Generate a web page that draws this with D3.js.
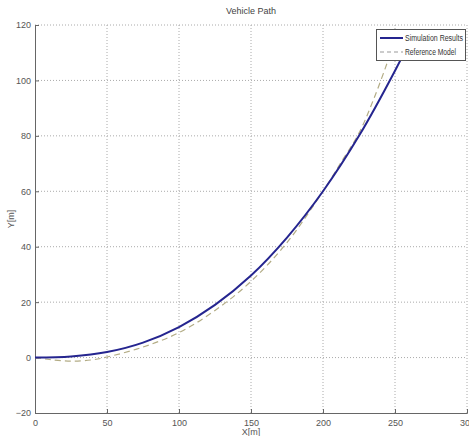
<!DOCTYPE html>
<html>
<head>
<meta charset="utf-8">
<script src="https://cdn.jsdelivr.net/npm/d3@7"></script>
<style>
  body { margin: 0; background: #fff; }
  svg { font-family: "Liberation Sans Narrow", "Liberation Sans", Arial, sans-serif; }
</style>
</head>
<body>
<svg id="chart" width="469" height="436"></svg>
<script>
// values
var simX = [0, 25, 50, 75, 100, 125, 150, 175, 200, 225, 250, 262];
var simY = [0, 0.4, 2.0, 5.4, 11, 19, 29.6, 43.3, 60, 80, 103.5, 116];
var refX = [0, 10, 25, 40, 50, 75, 100, 125, 150, 175, 200, 212, 225, 235, 245, 252];
var refY = [0, -0.7, -1.3, -0.8, 0.2, 3.8, 9, 17, 27.5, 41.5, 60, 70, 81, 93, 107, 118];
var xTicks = [0, 50, 100, 150, 200, 250, 300];
var yTicks = [-20, 0, 20, 40, 60, 80, 100, 120];
var legendLabels = ["Simulation Results", "Reference Model"];

var margin = {top: 25, left: 35},
    width = 432,
    height = 388;

var svg = d3.select("#chart");

var x = d3.scaleLinear().domain([0, 300]).range([margin.left, margin.left + width]);
var y = d3.scaleLinear().domain([-20, 120]).range([margin.top + height, margin.top]);

// grid
svg.append("g").selectAll("line")
    .data(xTicks.slice(1))
    .enter().append("line")
    .attr("x1", function (d) { return x(d); })
    .attr("x2", function (d) { return x(d); })
    .attr("y1", y(-20))
    .attr("y2", y(120))
    .attr("stroke", "#aaa")
    .attr("stroke-dasharray", "1,2");

svg.append("g").selectAll("line")
    .data(yTicks.slice(1))
    .enter().append("line")
    .attr("x1", x(0))
    .attr("x2", x(300))
    .attr("y1", function (d) { return y(d); })
    .attr("y2", function (d) { return y(d); })
    .attr("stroke", "#aaa")
    .attr("stroke-dasharray", "1,2");

// axes
var xAxis = svg.append("g")
    .attr("transform", "translate(0," + y(-20) + ")")
    .call(d3.axisBottom(x).tickValues(xTicks).tickSize(-4).tickPadding(7));
var yAxis = svg.append("g")
    .attr("transform", "translate(" + x(0) + ",0)")
    .call(d3.axisLeft(y).tickValues(yTicks).tickSize(-4).tickPadding(4));

[xAxis, yAxis].forEach(function (a) {
    a.select(".domain").attr("stroke", "#666");
    a.selectAll(".tick line").attr("stroke", "#666");
    a.selectAll("text").attr("fill", "#555").style("font-size", "9px");
});

// lines
var line = d3.line()
    .x(function (d) { return x(d[0]); })
    .y(function (d) { return y(d[1]); })
    .curve(d3.curveCatmullRom);

svg.append("clipPath").attr("id", "clip")
    .append("rect")
    .attr("x", x(0)).attr("y", y(120))
    .attr("width", width).attr("height", height);

svg.append("path")
    .datum(refX.map(function (d, i) { return [d, refY[i]]; }))
    .attr("clip-path", "url(#clip)")
    .attr("d", line)
    .attr("fill", "none")
    .attr("stroke", "#b3ac85")
    .attr("stroke-width", 1.2)
    .attr("stroke-dasharray", "6,4");

svg.append("path")
    .datum(simX.map(function (d, i) { return [d, simY[i]]; }))
    .attr("clip-path", "url(#clip)")
    .attr("d", line)
    .attr("fill", "none")
    .attr("stroke", "#25258f")
    .attr("stroke-width", 2);

// title and axis labels
svg.append("text")
    .attr("x", x(150))
    .attr("y", 14)
    .attr("text-anchor", "middle")
    .attr("fill", "#444")
    .style("font-size", "9px")
    .text("Vehicle Path");

svg.append("text")
    .attr("x", x(150))
    .attr("y", 435)
    .attr("text-anchor", "middle")
    .attr("fill", "#555")
    .style("font-size", "9px")
    .text("X[m]");

svg.append("text")
    .attr("transform", "translate(14," + y(50) + ") rotate(-90)")
    .attr("text-anchor", "middle")
    .attr("fill", "#555")
    .style("font-size", "9px")
    .text("Y[m]");

// legend
var legend = svg.append("g");
legend.append("rect")
    .attr("x", 376.5)
    .attr("y", 29.5)
    .attr("width", 89)
    .attr("height", 31)
    .attr("fill", "#fff")
    .attr("stroke", "#555");

var legendStyles = [
    {stroke: "#25258f", width: 2, dash: null, len: 58},
    {stroke: "#999", width: 1.2, dash: "4,3", len: 51}
];

legend.selectAll("line")
    .data(legendStyles)
    .enter().append("line")
    .attr("x1", 380)
    .attr("x2", 403)
    .attr("y1", function (d, i) { return 38 + i * 14; })
    .attr("y2", function (d, i) { return 38 + i * 14; })
    .attr("stroke", function (d) { return d.stroke; })
    .attr("stroke-width", function (d) { return d.width; })
    .attr("stroke-dasharray", function (d) { return d.dash; });

legend.selectAll("text")
    .data(legendLabels)
    .enter().append("text")
    .attr("x", 405)
    .attr("y", function (d, i) { return 38 + i * 14; })
    .attr("dy", ".35em")
    .attr("fill", "#333")
    .attr("textLength", function (d, i) { return legendStyles[i].len; })
    .attr("lengthAdjust", "spacingAndGlyphs")
    .style("font-size", "8.5px")
    .text(function (d) { return d; });
</script>
</body>
</html>
